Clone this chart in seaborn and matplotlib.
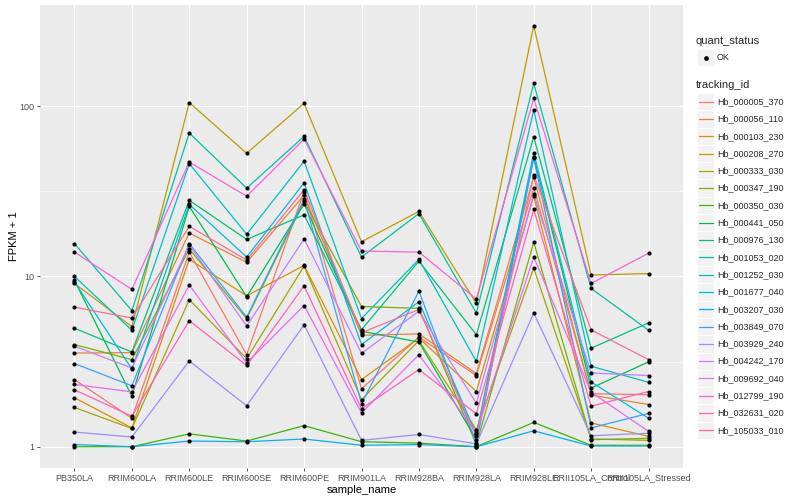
"""Expression profile of Hb genes across samples, drawn in a ggplot-like style."""

import math

import matplotlib

matplotlib.use("Agg")
import matplotlib.pyplot as plt
import numpy as np
import pandas as pd
import seaborn as sns
from matplotlib.lines import Line2D
from matplotlib.patches import Rectangle
from matplotlib.ticker import FixedLocator, NullFormatter

samples = [
    "PB350LA", "RRIM600LA", "RRIM600LE", "RRIM600SE", "RRIM600PE", "RRIM901LA",
    "RRIM928BA", "RRIM928LA", "RRIM928LE", "RRII105LA_Control", "RRII105LA_Stressed",
]

tracking_ids = [
    "Hb_000005_370", "Hb_000056_110", "Hb_000103_230", "Hb_000208_270", "Hb_000333_030",
    "Hb_000347_190", "Hb_000350_030", "Hb_000441_050", "Hb_000976_130", "Hb_001053_020",
    "Hb_001252_030", "Hb_001677_040", "Hb_003207_030", "Hb_003849_070", "Hb_003929_240",
    "Hb_004242_170", "Hb_009692_040", "Hb_012799_190", "Hb_032631_020", "Hb_105033_010",
]

# FPKM + 1, one row per gene, one value per sample
fpkm_000005_370 = [2.48, 1.47, 13.9, 3.47, 31.5, 2.19, 4.4, 2.62, 33.1, 2.05, 2.02]
fpkm_000056_110 = [3.55, 3.57, 18.0, 12.1, 30.0, 4.51, 4.6, 2.69, 38.4, 2.01, 1.77]
fpkm_000103_230 = [1.94, 1.29, 12.6, 7.7, 11.6, 2.48, 4.35, 2.11, 29.6, 1.38, 1.15]
fpkm_000208_270 = [9.1, 5.07, 105.0, 52.9, 104.0, 16.0, 24.1, 6.94, 297.0, 10.2, 10.4]
fpkm_000333_030 = [1.70, 1.28, 7.3, 3.29, 11.5, 1.89, 4.2, 1.26, 11.2, 1.11, 1.09]
fpkm_000347_190 = [3.98, 3.25, 14.5, 5.66, 27.6, 6.66, 6.5, 1.03, 15.9, 1.10, 1.12]
fpkm_000350_030 = [1.0, 1.0, 1.19, 1.08, 1.33, 1.07, 1.05, 1.0, 1.39, 1.02, 1.02]
fpkm_000441_050 = [9.5, 1.98, 25.8, 7.6, 26.6, 4.77, 4.12, 1.10, 50.5, 2.21, 3.15]
fpkm_000976_130 = [4.97, 3.6, 28.0, 16.5, 23.0, 4.87, 12.3, 4.55, 66.0, 3.79, 5.34]
fpkm_001053_020 = [15.6, 6.3, 69.6, 33.0, 66.5, 13.0, 23.4, 6.1, 136.0, 8.5, 4.83]
fpkm_001252_030 = [10.0, 4.83, 46.0, 17.7, 47.5, 5.66, 12.6, 3.17, 95.0, 2.97, 2.39]
fpkm_001677_040 = [9.3, 2.86, 26.5, 13.0, 35.5, 3.98, 7.1, 1.18, 53.3, 2.4, 1.47]
fpkm_003207_030 = [1.03, 1.0, 1.08, 1.07, 1.11, 1.02, 1.03, 1.0, 1.24, 1.01, 1.01]
fpkm_003849_070 = [3.08, 2.28, 15.6, 5.77, 28.4, 1.79, 8.2, 1.05, 49.4, 1.29, 1.57]
fpkm_003929_240 = [1.22, 1.14, 3.19, 1.74, 5.2, 1.09, 1.18, 1.04, 6.1, 1.16, 1.2]
fpkm_004242_170 = [3.89, 2.9, 15.3, 5.12, 16.6, 3.54, 6.25, 1.80, 30.4, 2.71, 2.62]
fpkm_009692_040 = [2.32, 2.1, 8.9, 3.1, 6.75, 1.58, 3.47, 1.21, 13.0, 2.09, 1.23]
fpkm_012799_190 = [13.9, 8.4, 47.0, 29.6, 64.0, 14.1, 13.9, 7.37, 111.0, 9.1, 13.7]
fpkm_032631_020 = [2.16, 1.51, 5.5, 3.0, 8.8, 1.67, 2.84, 1.56, 24.8, 1.73, 2.11]
fpkm_105033_010 = [6.6, 5.7, 19.7, 12.5, 32.3, 4.67, 6.4, 1.15, 39.4, 4.85, 3.25]

fpkm_rows = [
    fpkm_000005_370, fpkm_000056_110, fpkm_000103_230, fpkm_000208_270, fpkm_000333_030,
    fpkm_000347_190, fpkm_000350_030, fpkm_000441_050, fpkm_000976_130, fpkm_001053_020,
    fpkm_001252_030, fpkm_001677_040, fpkm_003207_030, fpkm_003849_070, fpkm_003929_240,
    fpkm_004242_170, fpkm_009692_040, fpkm_012799_190, fpkm_032631_020, fpkm_105033_010,
]

y_breaks = [1, 10, 100]


def hcl_to_hex(h, c, l):
    """Polar LUV (HCL) to sRGB hex, the way scales::hue_pal does it."""
    hr = math.radians(h)
    u, v = c * math.cos(hr), c * math.sin(hr)
    xn, yn, zn = 95.047, 100.0, 108.883
    un = 4 * xn / (xn + 15 * yn + 3 * zn)
    vn = 9 * yn / (xn + 15 * yn + 3 * zn)
    y = yn * ((l + 16) / 116) ** 3 if l > 8 else yn * l / 903.3
    up = u / (13 * l) + un
    vp = v / (13 * l) + vn
    x = 9 * y * up / (4 * vp)
    z = -x / 3 - 5 * y + 3 * y / vp
    x, y, z = x / 100, y / 100, z / 100
    rgb = [
        3.240479 * x - 1.537150 * y - 0.498535 * z,
        -0.969256 * x + 1.875992 * y + 0.041556 * z,
        0.055648 * x - 0.204043 * y + 1.057311 * z,
    ]
    out = []
    for ch in rgb:
        ch = 1.055 * ch ** (1 / 2.4) - 0.055 if ch > 0.0031308 else 12.92 * ch
        out.append(min(max(ch, 0.0), 1.0))
    return matplotlib.colors.to_hex(out)


def hue_pal(n):
    hues = np.linspace(15, 375, n + 1)[:-1]
    return [hcl_to_hex(h, 100, 65) for h in hues]


def main() -> None:
    records = []
    for gene, row in zip(tracking_ids, fpkm_rows):
        for sample, value in zip(samples, row):
            records.append({"tracking_id": gene, "sample_name": sample, "fpkm": value, "quant_status": "OK"})
    df = pd.DataFrame(records)
    df["sample_name"] = pd.Categorical(df["sample_name"], categories=samples, ordered=True)
    df["x"] = df["sample_name"].cat.codes

    palette = dict(zip(tracking_ids, hue_pal(len(tracking_ids))))

    sns.set_theme(style="darkgrid")
    plt.rcParams["font.family"] = ["Liberation Sans", "DejaVu Sans"]

    fig = plt.figure(figsize=(8, 5), dpi=100)
    ax = fig.add_axes([40 / 800, 1 - 468 / 500, 643 / 800, 463 / 500])
    ax.set_facecolor("#EBEBEB")

    sns.lineplot(
        data=df, x="x", y="fpkm", hue="tracking_id", palette=palette,
        estimator=None, sort=False, legend=False, linewidth=0.9, ax=ax,
    )
    sns.scatterplot(data=df, x="x", y="fpkm", color="black", s=9, linewidth=0, legend=False, ax=ax, zorder=3)

    ax.set_yscale("log")
    ax.set_ylim(0.75, 393)
    ax.set_xlim(-0.6, len(samples) - 0.4)
    ax.yaxis.set_major_locator(FixedLocator(y_breaks))
    ax.set_yticklabels([str(b) for b in y_breaks])
    ax.yaxis.set_minor_locator(FixedLocator([10 ** 0.5, 10 ** 1.5]))
    ax.yaxis.set_minor_formatter(NullFormatter())
    ax.set_xticks(range(len(samples)))
    ax.set_xticklabels(samples)

    ax.grid(which="major", color="white", linewidth=0.85)
    ax.grid(which="minor", axis="y", color="white", linewidth=0.45)
    ax.set_axisbelow(True)
    for spine in ax.spines.values():
        spine.set_visible(False)
    ax.tick_params(which="major", length=2.5, width=0.6, color="#333333", labelsize=6.5,
                   labelcolor="#4D4D4D", pad=1.5)
    ax.tick_params(which="minor", length=0)
    ax.tick_params(axis="x", bottom=True)
    ax.tick_params(axis="y", left=True)
    ax.set_xlabel("sample_name", fontsize=8, labelpad=1.5, color="black")
    ax.set_ylabel("FPKM + 1", fontsize=8, labelpad=0.5, color="black")

    # legend panels, laid out in pixel terms like ggplot's guide boxes
    def fx(px):
        return px / 800

    def fy(py):
        return 1 - py / 500

    key = 17.3
    fig.text(fx(696), fy(41), "quant_status", fontsize=8, va="center", ha="left")
    fig.add_artist(Rectangle((fx(697), fy(49 + key)), key / 800, key / 500,
                             transform=fig.transFigure, facecolor="#F2F2F2", edgecolor="white", lw=0.6))
    fig.add_artist(Line2D([fx(705.6)], [fy(57.5)], marker="o", markersize=2.4, color="black",
                          transform=fig.transFigure))
    fig.text(fx(717), fy(57.5), "OK", fontsize=6.5, va="center", ha="left")

    fig.text(fx(696), fy(85), "tracking_id", fontsize=8, va="center", ha="left")
    top = 93
    for i, gene in enumerate(tracking_ids):
        y0 = top + i * key
        fig.add_artist(Rectangle((fx(697), fy(y0 + key)), key / 800, key / 500,
                                 transform=fig.transFigure, facecolor="#F2F2F2", edgecolor="white", lw=0.6))
        yc = fy(y0 + key / 2)
        fig.add_artist(Line2D([fx(698.5), fx(712.5)], [yc, yc], color=palette[gene], lw=0.9,
                              transform=fig.transFigure))
        fig.text(fx(717), yc, gene, fontsize=6.5, va="center", ha="left")

    fig.savefig("out.png", dpi=100, facecolor="white")
    plt.close(fig)


if __name__ == "__main__":
    main()
